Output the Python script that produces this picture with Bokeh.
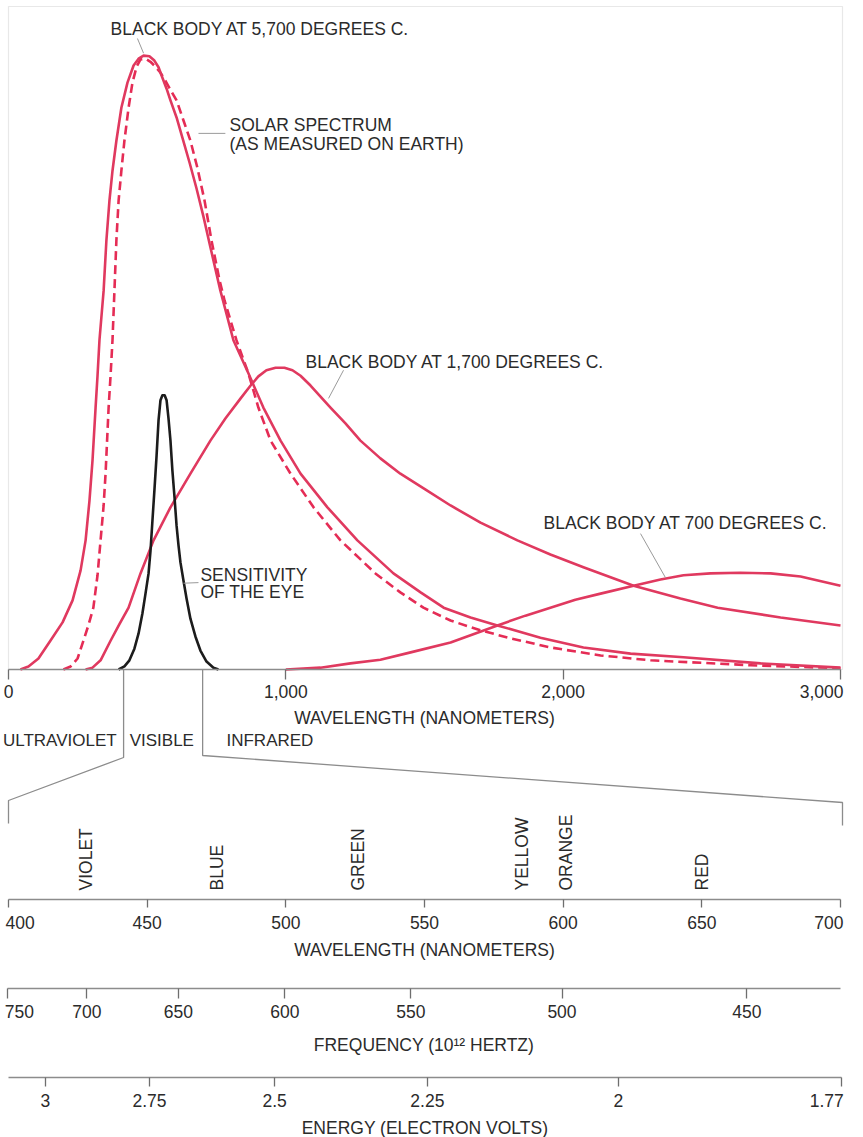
import math
from bokeh.plotting import figure
from bokeh.models import Range1d, LinearAxis, FixedTicker, NumeralTickFormatter, BoxAnnotation
from bokeh.core.properties import value
from bokeh.embed import file_html
from bokeh.resources import INLINE

# ---------------- data (relative intensity, 5,700 C peak = 100) ----------------
bb5700_nm = [43, 72, 108, 151, 195, 231, 260, 278, 292, 303, 314, 321, 328, 343, 353, 364, 375, 389, 407, 429,
             451, 469, 487, 508, 526, 541, 555, 570, 584, 606, 627, 653, 678, 703, 728, 764, 811, 865, 919, 981,
             1053, 1150, 1258, 1388, 1486, 1569, 1666, 1763, 1918, 2073, 2243, 2434, 2712, 3000]
bb5700_val = [0, 0.5, 1.8, 4.7, 7.7, 11.3, 16.2, 21.1, 27.6, 34.2, 42.8, 48.0, 53.8, 61.9, 70.1, 76.6, 81.5, 86.4, 91.8, 95.9,
              98.7, 99.8, 100.3, 100.2, 99.5, 98.4, 96.7, 94.9, 93.0, 90.2, 86.9, 82.8, 78.6, 74.0, 69.0, 61.9, 53.8, 48.4, 42.8, 37.4,
              32.0, 26.5, 21.1, 15.7, 12.6, 10.1, 8.5, 7.2, 5.2, 3.6, 2.6, 2.0, 1.0, 0.3]

solar_nm = [198, 224, 249, 270, 288, 306, 321, 332, 343, 350, 361, 368, 375, 382, 389, 397, 407, 418, 433, 447,
            462, 476, 494, 512, 530, 548, 566, 584, 606, 631, 656, 681, 707, 732, 761, 779, 822, 865, 901, 945,
            1017, 1100, 1197, 1323, 1413, 1496, 1594, 1702, 1810, 1954, 2135, 2315, 2676, 3000]
solar_val = [0, 0.5, 1.8, 4.7, 7.2, 10.1, 15.4, 21.1, 26.8, 32.0, 42.8, 48.0, 53.8, 61.9, 70.1, 76.6, 81.5, 86.4, 91.8, 95.9,
             98.5, 99.7, 99.8, 99.3, 98.5, 97.5, 96.2, 94.7, 93.0, 89.7, 86.4, 82.0, 76.6, 70.1, 63.6, 60.3, 53.8, 48.4, 42.8, 37.4,
             32.0, 26.5, 21.1, 15.7, 12.6, 10.1, 8.0, 6.4, 5.1, 3.6, 2.3, 1.5, 0.7, 0.2]

bb1700_nm = [278, 303, 332, 368, 400, 433, 476, 523, 584, 656, 728, 782, 837, 873, 901, 930, 963, 995, 1024, 1053,
             1089, 1125, 1161, 1215, 1269, 1341, 1413, 1504, 1594, 1702, 1835, 1954, 2073, 2254, 2423, 2557, 2784, 3000]
bb1700_val = [0, 0.3, 1.5, 4.7, 7.4, 10.1, 15.7, 21.1, 26.5, 32.0, 37.4, 41.0, 44.3, 46.4, 47.9, 48.9, 49.3, 49.3, 48.9, 48.0,
              46.4, 44.6, 42.8, 40.2, 37.4, 34.5, 32.0, 29.4, 26.8, 24.0, 21.1, 18.8, 16.7, 13.7, 11.6, 10.1, 8.5, 7.2]

bb700_nm = [1000, 1125, 1233, 1341, 1450, 1594, 1763, 1864, 1954, 2044, 2135, 2254, 2351, 2434, 2531, 2639, 2748, 2856, 3000]
bb700_val = [0, 0.3, 1.0, 1.6, 2.8, 4.4, 7.2, 8.8, 10.1, 11.4, 12.4, 13.7, 14.7, 15.4, 15.7, 15.8, 15.7, 15.2, 13.7]

eye_nm = [397, 418, 436, 454, 469, 483, 494, 505, 512, 519, 526, 534, 541, 548, 555, 563, 570, 577, 584, 591,
          599, 606, 613, 620, 631, 642, 656, 674, 692, 714, 739, 757]
eye_val = [0, 0.5, 1.5, 3.4, 5.9, 9.2, 12.4, 15.7, 19.4, 24.3, 29.2, 35.0, 40.7, 44.0, 44.8, 44.8, 44.0, 41.0, 37.4, 32.5,
           27.9, 23.5, 20.3, 17.5, 14.5, 11.6, 8.3, 5.4, 3.1, 1.3, 0.3, 0]

main_ticks = [0, 1000, 2000, 3000]
main_tick_labels = ["0", "1,000", "2,000", "3,000"]
visible_ticks = [400, 450, 500, 550, 600, 650, 700]
freq_ticks_thz = [750, 700, 650, 600, 550, 500, 450]
energy_ticks_ev = [3, 2.75, 2.5, 2.25, 2, 1.77]
energy_tick_labels = ["3", "2.75", "2.5", "2.25", "2", "1.77"]
color_names = ["VIOLET", "BLUE", "GREEN", "YELLOW", "ORANGE", "RED"]
color_nm = [428, 475, 526, 585, 601, 650]
uv_visible_nm = 415
visible_ir_nm = 700

# ---------------- layout constants (page pixels) ----------------
W, H = 863, 1137
BASE_PY = 669            # page y of zero intensity / main axis
PX_PER_UNIT = 6.12
LEFT_PX = 8              # page x of 0 nm (and of 400 nm on the lower scales)
MAIN_PX_PER_NM = 832 / 3000
VIS_PX_PER_NM = 832 / 300
VIS_AXIS_PY, FREQ_AXIS_PY, ENERGY_AXIS_PY = 899, 988, 1077


def yy(page_y):
    return (BASE_PY - page_y) / PX_PER_UNIT


FONT = value("Liberation Sans")
FS = value("17.5px")
TXT = "#2b2b2b"
PINK = "#e0395f"
DASH_PINK = "#e52c55"
GRAY = "#8c8c8c"

p = figure(width=W, height=H, title=None, output_backend="svg", toolbar_location=None, tools="",
           x_axis_location=None, y_axis_location=None, min_border=0,
           x_range=Range1d(-LEFT_PX / MAIN_PX_PER_NM, (W - LEFT_PX) / MAIN_PX_PER_NM),
           y_range=Range1d(yy(H), yy(0)))
p.extra_x_ranges = {"vis": Range1d(400 - LEFT_PX / VIS_PX_PER_NM, 400 + (W - LEFT_PX) / VIS_PX_PER_NM)}
p.outline_line_color = None
p.background_fill_color = "white"
p.border_fill_color = "white"
p.grid.visible = False

# frame of the spectrum panel
p.add_layout(BoxAnnotation(left=main_ticks[0], right=main_ticks[-1] + 2 / MAIN_PX_PER_NM, bottom=0, top=yy(6),
                           fill_color=None, line_color="#b4b4b4", line_width=1.2, level="underlay"))

# ---------------- curves ----------------
p.line(bb700_nm, bb700_val, line_color=PINK, line_width=2.6, line_join="round")
p.line(bb1700_nm, bb1700_val, line_color=PINK, line_width=2.6, line_join="round")
p.line(solar_nm, solar_val, line_color=DASH_PINK, line_width=2.6, line_dash="9 5", line_join="round")
p.line(bb5700_nm, bb5700_val, line_color=PINK, line_width=2.6, line_join="round")
p.line(eye_nm, eye_val, line_color="#1c1c1c", line_width=2.6, line_join="round")

# ---------------- annotations ----------------
notes = [("BLACK BODY AT 5,700 DEGREES C.", 368, 104.6),
         ("SOLAR SPECTRUM", 797, 88.9),
         ("(AS MEASURED ON EARTH)", 797, 85.8),
         ("BLACK BODY AT 1,700 DEGREES C.", 1071, 50.2),
         ("SENSITIVITY", 692, 15.5),
         ("OF THE EYE", 692, 12.6),
         ("BLACK BODY AT 700 DEGREES C.", 1929, 24.0)]
p.text(x=[n[1] for n in notes], y=[n[2] for n in notes], text=[n[0] for n in notes],
       text_font=FONT, text_font_size=FS, text_color=TXT, text_align="left", text_baseline="middle")
p.segment(x0=[465, 685, 1208, 631, 2279], y0=[103.1, 87.6, 48.9, 14.1, 22.2],
          x1=[487, 782, 1154, 685, 2369], y1=[100.7, 87.6, 44.3, 14.2, 15.0],
          line_color="#9a9a9a", line_width=1)

# band labels and connectors to the visible-range scale
p.text(x=[uv_visible_nm - 25], y=[yy(740)], text=["ULTRAVIOLET"], text_font=FONT, text_font_size=value("17px"),
       text_color=TXT, text_align="right", text_baseline="middle")
p.text(x=[uv_visible_nm + 22, visible_ir_nm + 86], y=[yy(740), yy(740)], text=["VISIBLE", "INFRARED"],
       text_font=FONT, text_font_size=value("17px"), text_color=TXT, text_align="left", text_baseline="middle")
p.line(x=[uv_visible_nm, uv_visible_nm, main_ticks[0], main_ticks[0]], y=[0, yy(757), yy(800), yy(823)],
       line_color=GRAY, line_width=1.3)
p.line(x=[visible_ir_nm, visible_ir_nm, main_ticks[-1] + 2 / MAIN_PX_PER_NM, main_ticks[-1] + 2 / MAIN_PX_PER_NM],
       y=[0, yy(755), yy(802), yy(825)], line_color=GRAY, line_width=1.3)

# colour names
p.text(x=color_nm, y=[yy(890)] * len(color_nm), text=color_names, angle=math.pi / 2, x_range_name="vis",
       text_font=FONT, text_font_size=FS, text_color=TXT, text_align="left", text_baseline="middle")


# ---------------- axes ----------------
def add_axis(range_name, page_y, ticks, overrides, label, tick_out, bounds, tick_standoff, label_standoff,
             formatter=None):
    ax = LinearAxis(x_range_name=range_name, fixed_location=yy(page_y), bounds=bounds,
                    ticker=FixedTicker(ticks=ticks), major_label_overrides=overrides, axis_label=label)
    if formatter is not None:
        ax.formatter = formatter
    ax.axis_line_color = GRAY
    ax.axis_line_width = 1.3
    ax.major_tick_line_color = "#6e6e6e"
    ax.major_tick_line_width = 1.3
    ax.major_tick_in = 0
    ax.major_tick_out = tick_out
    ax.minor_tick_line_color = None
    ax.major_label_standoff = tick_standoff
    ax.major_label_text_font = "Liberation Sans"
    ax.major_label_text_font_size = "17.5px"
    ax.major_label_text_color = TXT
    ax.axis_label_text_font = "Liberation Sans"
    ax.axis_label_text_font_size = "17.5px"
    ax.axis_label_text_font_style = "normal"
    ax.axis_label_text_color = TXT
    ax.axis_label_standoff = label_standoff
    p.add_layout(ax, "below")
    return ax


def end_label(range_name, page_y, tick_out, standoff, x, text, align, dx):
    p.text(x=[x], y=[yy(page_y + tick_out + standoff)], text=[text], x_range_name=range_name, x_offset=dx,
           text_font=FONT, text_font_size=FS, text_color=TXT, text_align=align, text_baseline="top")


# main wavelength axis
add_axis("default", BASE_PY, main_ticks, {main_ticks[-1]: ""}, "WAVELENGTH (NANOMETERS)",
         10, (main_ticks[0], main_ticks[-1]), 5, 7, NumeralTickFormatter(format="0,0"))
end_label("default", BASE_PY, 10, 5, main_ticks[-1], main_tick_labels[-1], "right", 3)

# visible wavelength axis
add_axis("vis", VIS_AXIS_PY, visible_ticks, {visible_ticks[0]: "", visible_ticks[-1]: ""},
         "WAVELENGTH (NANOMETERS)", 8, (visible_ticks[0], visible_ticks[-1]), 8, 8)
end_label("vis", VIS_AXIS_PY, 8, 8, visible_ticks[0], str(visible_ticks[0]), "left", -3)
end_label("vis", VIS_AXIS_PY, 8, 8, visible_ticks[-1], str(visible_ticks[-1]), "right", 3)

# frequency axis (ticks placed at the wavelength of each frequency)
freq_pos = [round(299792.458 / f, 2) for f in freq_ticks_thz]
freq_over = {pos: str(f) for pos, f in zip(freq_pos, freq_ticks_thz)}
freq_over[freq_pos[0]] = ""
add_axis("vis", FREQ_AXIS_PY, freq_pos, freq_over, "FREQUENCY (10\u00b9\u00b2 HERTZ)", 10,
         (min(freq_pos), visible_ticks[-1]), 6, 14)
end_label("vis", FREQ_AXIS_PY, 10, 6, freq_pos[0], str(freq_ticks_thz[0]), "left", -3)

# energy axis
energy_pos = [round(1239.84 / e, 2) for e in energy_ticks_ev]
energy_over = {pos: t for pos, t in zip(energy_pos, energy_tick_labels)}
energy_over[energy_pos[-1]] = ""
add_axis("vis", ENERGY_AXIS_PY, energy_pos, energy_over, "ENERGY (ELECTRON VOLTS)", 9,
         (visible_ticks[0], max(energy_pos)), 7, 8)
end_label("vis", ENERGY_AXIS_PY, 9, 7, energy_pos[-1], energy_tick_labels[-1], "right", 2)

open("out.html", "w").write(file_html(p, INLINE))
